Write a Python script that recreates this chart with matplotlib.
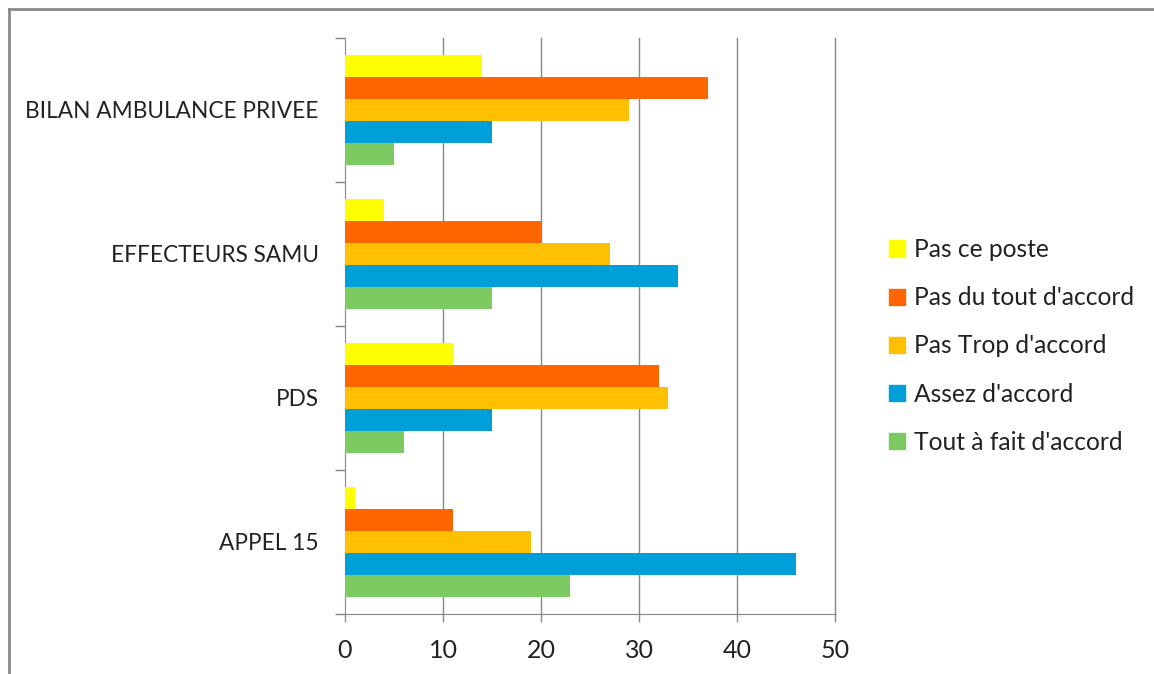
import matplotlib.pyplot as plt
import numpy as np
from matplotlib.lines import Line2D

# données
categories = ['APPEL 15', 'PDS', 'EFFECTEURS SAMU', 'BILAN AMBULANCE PRIVEE']
series = ['Pas ce poste', "Pas du tout d'accord", "Pas Trop d'accord",
          "Assez d'accord", "Tout à fait d'accord"]
pas_ce_poste = [1, 11, 4, 14]
pas_du_tout = [11, 32, 20, 37]
pas_trop = [19, 33, 27, 29]
assez = [46, 15, 34, 15]
tout_a_fait = [23, 6, 15, 5]
colors = ['#FFFF00', '#FF6600', '#FFC000', '#009FD9', '#7DCA62']
xticks = [0, 10, 20, 30, 40, 50]

plt.rcParams['font.family'] = ['Lato', 'DejaVu Sans']

fig = plt.figure(figsize=(11.54, 6.74), dpi=100)
ax = fig.add_axes([345 / 1154, 1 - 614 / 674, 490 / 1154, 576 / 674])

values = [pas_ce_poste, pas_du_tout, pas_trop, assez, tout_a_fait]
y = np.arange(len(categories))
h = 22 / 144
for i, (vals, col) in enumerate(zip(values, colors)):
    ax.barh(y + (2 - i) * h, vals, height=h, color=col, label=series[i], zorder=3)

ax.set_xlim(0, 50)
ax.set_ylim(-0.5, 3.5)
ax.set_xticks(xticks)
ax.set_xticklabels([str(t) for t in xticks], fontsize=18, color='#222222')
ax.set_yticks(y)
ax.set_yticklabels(categories, fontsize=16.3, color='#222222')
ax.tick_params(axis='y', length=0, pad=19)
ax.tick_params(axis='x', length=6, color='#888888', width=1, pad=12)
ax.set_yticks(np.arange(-0.5, 4, 1), minor=True)
ax.tick_params(axis='y', which='minor', length=7, color='#888888', width=1)

# quadrillage vertical
for t in xticks[1:]:
    ax.axvline(t, color='#888888', linewidth=1, zorder=0, clip_on=False)
for s in ['top', 'right']:
    ax.spines[s].set_visible(False)
ax.spines['left'].set_color('#888888')
ax.spines['bottom'].set_color('#888888')

handles = [plt.Rectangle((0, 0), 1, 1, color=c) for c in colors]
fig.legend(handles, series, loc='upper left', bbox_to_anchor=(877 / 1154, 1 - 226 / 674),
           frameon=False, fontsize=17.7, handlelength=0.65, handleheight=0.65,
           handletextpad=0.35, labelspacing=1.02, borderpad=0, labelcolor='#222222')

# cadre gris (haut et gauche seulement)
fig.add_artist(Line2D([8.5 / 1154, 1], [1 - 9 / 674] * 2, color='#8a8a8a', linewidth=2,
                      transform=fig.transFigure))
fig.add_artist(Line2D([8.5 / 1154] * 2, [0, 1 - 9 / 674], color='#8a8a8a', linewidth=2,
                      transform=fig.transFigure))

plt.savefig('out.png', dpi=100)
